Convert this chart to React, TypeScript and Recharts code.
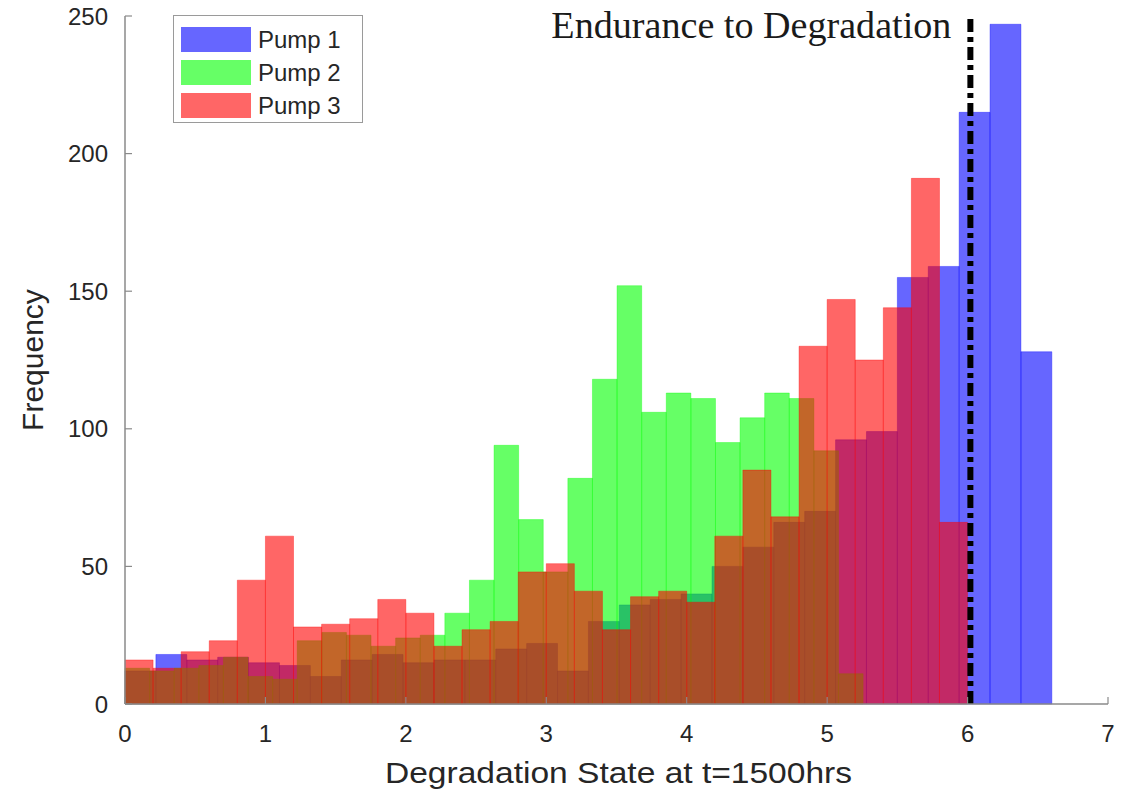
import React from "react"
import { ComposedChart, XAxis, YAxis, Line, ReferenceArea, ReferenceLine } from "recharts"

// histogram counts per bin
const pump1Counts = [12, 18, 16, 17, 15, 14, 10, 16, 18, 15, 16, 16, 20, 22, 12, 30, 36, 38, 40, 50, 57, 66, 70, 96, 99, 155, 159, 215, 247, 128]
const pump2Counts = [13, 12, 13, 14, 17, 10, 9, 23, 26, 25, 21, 24, 25, 33, 45, 94, 67, 48, 82, 118, 152, 106, 113, 111, 95, 104, 113, 111, 92, 11]
const pump3Counts = [16, 13, 19, 23, 45, 61, 28, 29, 31, 38, 33, 21, 27, 30, 48, 51, 41, 27, 39, 41, 37, 61, 85, 68, 130, 147, 125, 144, 191, 66]

// bin layout of each histogram (first edge, bin width)
const pump1Bins = { start: 0, width: 0.22 }
const pump2Bins = { start: 0, width: 0.1752 }
const pump3Bins = { start: 0, width: 0.2 }

const seriesNames = ["Pump 1", "Pump 2", "Pump 3"]
const xTicks = [0, 1, 2, 3, 4, 5, 6, 7]
const yTicks = [0, 50, 100, 150, 200, 250]

const enduranceLimit = 6.02
const enduranceLine = [
  { x: enduranceLimit, y: 0 },
  { x: enduranceLimit, y: 251 },
]
const enduranceTitle = "Endurance to Degradation"
const xTitle = "Degradation State at t=1500hrs"
const yTitle = "Frequency"

const COLORS = ["#0000ff", "#00ff00", "#ff0000"]
const SWATCH = ["#6666ff", "#66ff66", "#ff6666"]
const SANS = "'Liberation Sans', Arial, Helvetica, sans-serif"
const SERIF = "'Liberation Serif', 'Times New Roman', serif"
const AXIS_GRAY = "#8a8a8a"
const TEXT = "#262626"

interface Bin {
  x1: number
  x2: number
  count: number
}

const toBins = (counts: number[], layout: { start: number; width: number }): Bin[] =>
  counts.map((count, i) => ({
    x1: layout.start + i * layout.width,
    x2: layout.start + (i + 1) * layout.width,
    count,
  }))

const histograms = [toBins(pump1Counts, pump1Bins), toBins(pump2Counts, pump2Bins), toBins(pump3Counts, pump3Bins)]

const XTick = (props: any) => {
  const { x, y, payload } = props
  return (
    <g>
      <line x1={x} x2={x} y1={y} y2={y - 7} stroke={AXIS_GRAY} strokeWidth={1.2} />
      <text x={x} y={y + 38} textAnchor="middle" fontFamily={SANS} fontSize={24} fill={TEXT}>
        {payload.value}
      </text>
    </g>
  )
}

const YTick = (props: any) => {
  const { x, y, payload } = props
  return (
    <g>
      <line x1={x} x2={x + 7} y1={y} y2={y} stroke={AXIS_GRAY} strokeWidth={1.2} />
      <text x={x - 17} y={y} dy="0.36em" textAnchor="end" fontFamily={SANS} fontSize={24} fill={TEXT}>
        {payload.value}
      </text>
    </g>
  )
}

const XTitle = (props: any) => {
  const { viewBox } = props
  if (!viewBox) return null
  return (
    <text
      x={viewBox.x + viewBox.width / 2 + 2}
      y={viewBox.y + 79}
      textAnchor="middle"
      fontFamily={SANS}
      fontSize={30}
      textLength={467}
      lengthAdjust="spacingAndGlyphs"
      fill={TEXT}
    >
      {xTitle}
    </text>
  )
}

const YTitle = (props: any) => {
  const { viewBox } = props
  if (!viewBox) return null
  const cy = viewBox.y + viewBox.height / 2
  return (
    <text x={43} y={cy} transform={`rotate(-90, 43, ${cy})`} textAnchor="middle" fontFamily={SANS} fontSize={30} fill={TEXT}>
      {yTitle}
    </text>
  )
}

const EnduranceLabel = (props: any) => {
  const { viewBox } = props
  if (!viewBox) return null
  return (
    <text
      x={viewBox.x - 19}
      y={viewBox.y + 22}
      textAnchor="end"
      fontFamily={SERIF}
      fontSize={37}
      textLength={400}
      lengthAdjust="spacingAndGlyphs"
      fill="#1a1a1a"
    >
      {enduranceTitle}
    </text>
  )
}

const LegendBox = () => (
  <div
    style={{
      position: "absolute",
      left: 173,
      top: 15,
      width: 190,
      height: 108,
      border: "1.5px solid #9a9a9a",
      background: "#fff",
      padding: "7px 0 0 7px",
      boxSizing: "border-box",
    }}
  >
    {seriesNames.map((name, i) => (
      <div key={name} style={{ display: "flex", alignItems: "center", height: 33, whiteSpace: "nowrap" }}>
        <div style={{ width: 70, height: 25, background: SWATCH[i], marginRight: 7, flex: "none" }} />
        <span style={{ fontFamily: SANS, fontSize: 24, color: TEXT }}>{name}</span>
      </div>
    ))}
  </div>
)

export default function App() {
  return (
    <div style={{ position: "absolute", left: 0, top: 0, width: 1130, height: 789, background: "#fff" }}>
      <ComposedChart width={1130} height={789} margin={{ top: 16, right: 22, bottom: 0, left: 0 }}>
        <XAxis
          dataKey="x"
          type="number"
          domain={[0, 7]}
          ticks={xTicks}
          allowDataOverflow
          height={85}
          stroke={AXIS_GRAY}
          strokeWidth={1.5}
          tickLine={false}
          tickSize={0}
          tickMargin={0}
          tick={<XTick />}
          label={<XTitle />}
        />
        <YAxis
          type="number"
          domain={[0, 250]}
          ticks={yTicks}
          allowDataOverflow
          width={125}
          stroke={AXIS_GRAY}
          strokeWidth={1.5}
          tickLine={false}
          tickSize={0}
          tickMargin={0}
          tick={<YTick />}
          label={<YTitle />}
        />
        {histograms.map((bins, s) =>
          bins.map((b, i) => (
            <ReferenceArea
              key={`${s}-${i}`}
              x1={b.x1}
              x2={b.x2}
              y1={0}
              y2={b.count}
              fill={COLORS[s]}
              fillOpacity={0.6}
              stroke={COLORS[s]}
              strokeOpacity={0.35}
              strokeWidth={1}
              ifOverflow="visible"
            />
          ))
        )}
        <Line
          data={enduranceLine}
          dataKey="y"
          stroke="#000"
          strokeWidth={6}
          strokeDasharray="13 5 5 5"
          dot={false}
          activeDot={false}
          isAnimationActive={false}
          legendType="none"
        />
        <ReferenceLine x={enduranceLimit} stroke="none" label={<EnduranceLabel />} />
      </ComposedChart>
      <LegendBox />
    </div>
  )
}
